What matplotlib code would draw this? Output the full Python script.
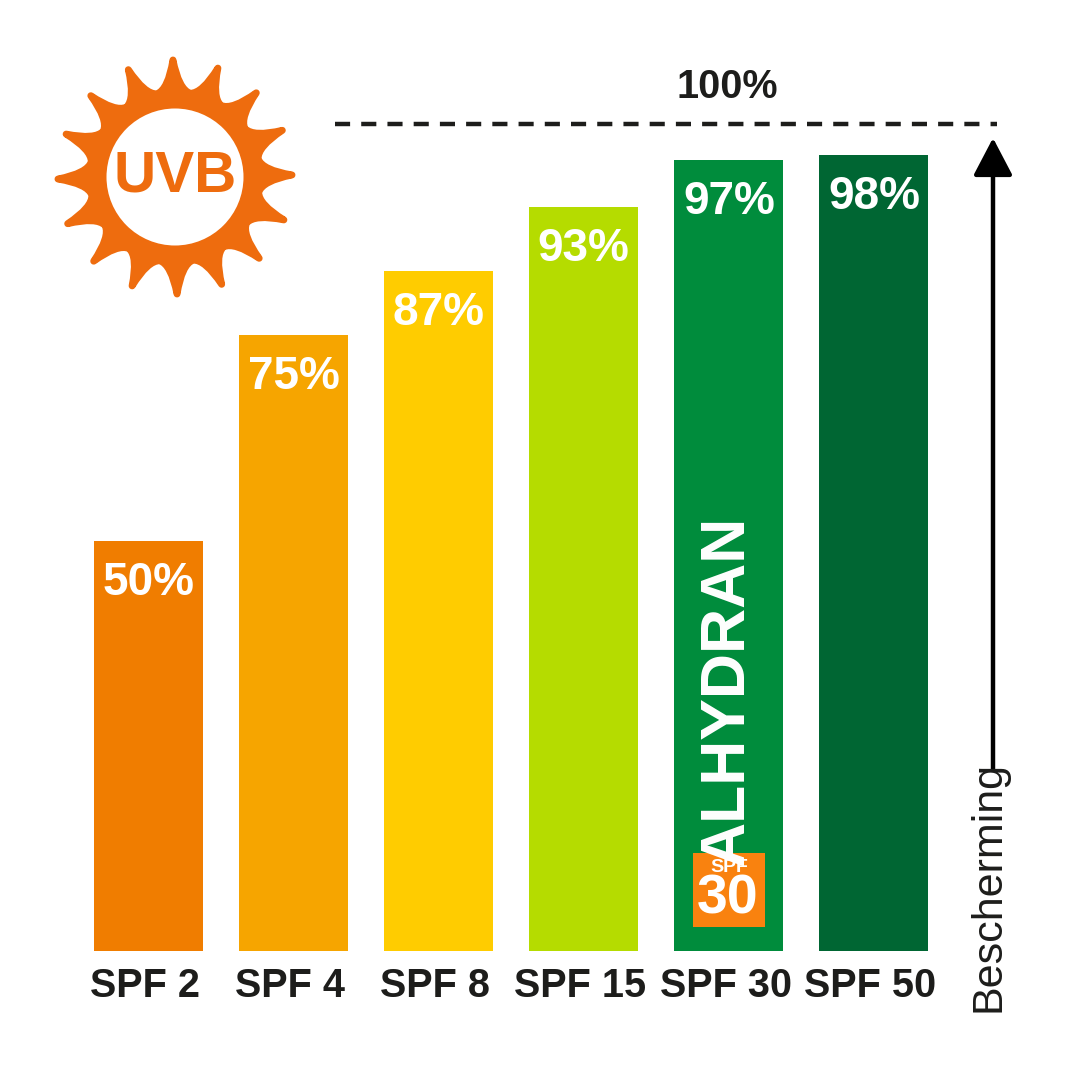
import numpy as np
import matplotlib
matplotlib.use('Agg')
import matplotlib.pyplot as plt
from matplotlib.path import Path
from matplotlib.patches import PathPatch, Circle, Rectangle

plt.rcParams['font.family'] = ['Liberation Sans Narrow', 'Liberation Sans', 'DejaVu Sans']

categories = ['SPF 2', 'SPF 4', 'SPF 8', 'SPF 15', 'SPF 30', 'SPF 50']
percent_labels = ['50%', '75%', '87%', '93%', '97%', '98%']
# drawn heights are not to scale with the labels
bar_heights = [410, 616, 680, 744, 791, 796]
bar_colors = ['#F07D00', '#F6A500', '#FFCC00', '#B5DC00', '#008C3C', '#006633']
bar_centers = [148, 293, 438, 583, 728.5, 873.5]
top_height = 827

DARK = '#1D1D1B'
SUN = '#EE6C0E'
BASE = 951

fig = plt.figure(figsize=(10.8, 10.8), dpi=100)
ax = fig.add_axes([0, 0, 1, 1])
ax.set_xlim(0, 1080)
ax.set_ylim(BASE - 1080, BASE)  # 0 is the foot of the bars, 1 unit = 1 px
ax.axis('off')

ax.bar(bar_centers, bar_heights, width=109, color=bar_colors, linewidth=0)

for x, h, lab in zip(bar_centers, bar_heights, percent_labels):
    ax.text(x + 0.5, h - 42, lab, color='white', fontsize=33, fontweight='bold', ha='center', va='center')
for x, lab in zip(bar_centers, categories):
    ax.text(x - 3, -35, lab, color=DARK, fontsize=28.5, fontweight='bold', ha='center', va='center')

# 100% line and arrow
ax.plot([335, 997], [top_height, top_height], color=DARK, lw=3.2, dashes=(3.4, 2.5))
ax.text(727, top_height + 37, '100%', color=DARK, fontsize=28.5, fontweight='bold', ha='center', va='center')
ax.annotate('', xy=(993, 813), xytext=(993, 181),
            arrowprops=dict(arrowstyle='-|>,head_length=1.05,head_width=0.55', color='black', lw=3.2,
                            shrinkA=0, shrinkB=0, mutation_scale=22))
ax.text(988, 64, 'Bescherming', color=DARK, fontsize=31, rotation=90, ha='center', va='center')

# product label on the SPF 30 bar
ax.text(727, 260, 'ALHYDRAN', color='white', fontsize=45, fontweight='bold', rotation=90,
        ha='center', va='center', family=['Liberation Sans', 'DejaVu Sans'])
ax.add_patch(Rectangle((693, 24), 72, 74, color='#F9820F', lw=0))
ax.text(729, 83, 'SPF', color='white', fontsize=14, fontweight='bold', ha='center', va='center',
        family=['Liberation Sans', 'DejaVu Sans'])
ax.text(728, 51, '30', color='white', fontsize=40, fontweight='bold', ha='center', va='center',
        family=['Liberation Sans', 'DejaVu Sans'])

# sun logo
cx, cy = 175, BASE - 177
n_rays = 16
tip_r, valley_r, ctrl_r = 117, 85, 88
verts, codes = [], []
for i in range(n_rays):
    a = np.pi / 2 + np.radians(1) - i * 2 * np.pi / n_rays
    step = np.pi / n_rays
    valley = a - step
    prev_valley = a + step
    if i == 0:
        verts.append((cx + valley_r * np.cos(prev_valley), cy + valley_r * np.sin(prev_valley)))
        codes.append(Path.MOVETO)
    verts += [(cx + ctrl_r * np.cos(a + step * 0.3), cy + ctrl_r * np.sin(a + step * 0.3)),
              (cx + tip_r * np.cos(a), cy + tip_r * np.sin(a)),
              (cx + ctrl_r * np.cos(a - step * 0.3), cy + ctrl_r * np.sin(a - step * 0.3)),
              (cx + valley_r * np.cos(valley), cy + valley_r * np.sin(valley))]
    codes += [Path.CURVE3] * 4
verts.append(verts[0])
codes.append(Path.CLOSEPOLY)
ax.add_patch(PathPatch(Path(verts, codes), facecolor=SUN, edgecolor=SUN, lw=5, joinstyle='round'))
ax.add_patch(Circle((cx, cy), 68.5, color='white', lw=0))
ax.text(cx + 0.5, cy, 'UVB', color=SUN, fontsize=42, fontweight='bold', ha='center', va='center')

fig.savefig('out.png', dpi=100, facecolor='white')
